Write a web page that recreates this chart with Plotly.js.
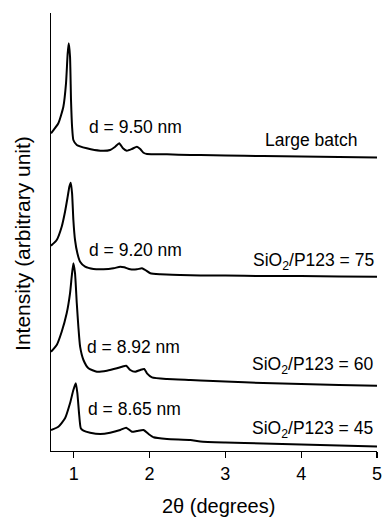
<!DOCTYPE html>
<html>
<head>
<meta charset="utf-8">
<script src="https://cdn.plot.ly/plotly-3.0.1.min.js"></script>
<style>html,body{margin:0;padding:0;background:#fff;}#chart{width:382px;height:520px;}</style>
</head>
<body>
<div id="chart"></div>
<script>
// 2θ (degrees) and stacked intensity (arbitrary units)
const xLarge = [0.70,0.797,0.863,0.898,0.92,0.934,0.951,0.964,0.978,0.995,1.04,1.172,1.35,1.48,1.547,1.60,1.649,1.70,1.767,1.833,1.877,1.92,1.966,2.23,2.54,2.67,3.0,3.5,4.0,4.5,5.0];
const yLarge = [317.7,327.7,344.3,367.7,397.7,407.7,394.3,351,324.3,311,306,302.7,300.3,301,304.3,307.7,302.7,300.3,302,304.3,302,298.3,297,296.7,296,296,295.5,295,294.5,294,293.5];

const x75 = [0.70,0.775,0.841,0.885,0.92,0.942,0.96,0.978,0.995,1.017,1.048,1.084,1.15,1.26,1.392,1.524,1.613,1.666,1.745,1.834,1.90,1.943,2.01,2.14,2.406,2.67,3.0,3.5,4.0,4.5,5.0];
const y75 = [205.3,211,224.3,239.3,254.3,264.3,268.3,257.7,231,211,197.7,189.3,184.3,182,181.7,182.7,184.3,183.7,181.7,181.7,182.7,181,177.7,176.7,176,175.5,175.5,175,175,174.5,174.3];

const x60 = [0.70,0.775,0.841,0.907,0.951,0.973,0.995,1.017,1.04,1.061,1.084,1.128,1.194,1.305,1.437,1.569,1.635,1.692,1.745,1.811,1.877,1.93,1.966,2.032,2.23,2.54,2.67,3.0,3.5,4.0,4.5,5.0];
const y60 = [99.3,106,119.3,137.7,157.7,174.3,187.7,177.7,147.7,124.3,104.3,91,82.7,79.3,80.3,82.7,84.3,85.3,81,79.3,81,82,77.7,73.7,72,71,70.5,69.5,68,67,66,65.3];

const x45 = [0.70,0.797,0.885,0.951,0.995,1.027,1.048,1.07,1.093,1.128,1.216,1.35,1.48,1.613,1.692,1.767,1.834,1.92,1.987,2.053,2.23,2.54,2.67,3.0,3.5,4.0,4.5,5.0];
const y45 = [21,24.3,32.7,47.7,61,67.7,57.7,37.7,22.7,20.3,18.3,17,18.3,21,23.3,19.3,20,21,17,13.7,12,11,9.5,8.5,7.5,6.5,5.5,4.5];

const xTicks = [1,2,3,4,5];
const spacingLabels = ['d = 9.50 nm','d = 9.20 nm','d = 8.92 nm','d = 8.65 nm'];
const sampleLabels = ['Large batch','SiO<sub>2</sub>/P123 = 75','SiO<sub>2</sub>/P123 = 60','SiO<sub>2</sub>/P123 = 45'];

const FONT = 'Liberation Sans, Arial, sans-serif';
const line = {color:'#000', width:2, shape:'spline', smoothing:0.5};
const series = [[xLarge,yLarge],[x75,y75],[x60,y60],[x45,y45]];
const traces = series.map(s => ({x:s[0], y:s[1], mode:'lines', line:line, hoverinfo:'skip', showlegend:false}));

const dPos = [[1.172,324],[1.172,201],[1.15,104.3],[1.16,42]];
const sPos = [[4.765,311],[4.986,190],[4.977,86],[4.98,21.7]];
const annotations = [];
spacingLabels.forEach((t,i)=>annotations.push({x:dPos[i][0], y:dPos[i][1], xref:'x', yref:'y', text:t, showarrow:false, xanchor:'left', yanchor:'middle', font:{family:FONT,size:17.5,color:'#000'}}));
sampleLabels.forEach((t,i)=>annotations.push({x:sPos[i][0], y:sPos[i][1], xref:'x', yref:'y', text:t, showarrow:false, xanchor:'right', yanchor:'middle', font:{family:FONT,size:17.5,color:'#000'}}));
annotations.push({x:-0.086, y:0.475, xref:'paper', yref:'paper', text:'Intensity (arbitrary unit)', textangle:-90, showarrow:false, xanchor:'center', yanchor:'middle', font:{family:FONT,size:21,color:'#000'}});
annotations.push({x:0.514, y:-0.126, xref:'paper', yref:'paper', text:'2θ (degrees)', showarrow:false, xanchor:'center', yanchor:'middle', font:{family:FONT,size:20,color:'#000'}});

const layout = {
  width:382, height:520,
  margin:{l:51, r:5, t:13, b:69},
  paper_bgcolor:'#fff', plot_bgcolor:'#fff',
  font:{family:FONT, size:18, color:'#000'},
  xaxis:{range:[0.7,5], tickvals:xTicks, ticktext:xTicks.map(String), ticks:'outside', ticklen:6, tickwidth:1.3, tickcolor:'#000',
         ticklabeloverflow:'allow',
         showline:true, linecolor:'#000', linewidth:1.4, showgrid:false, zeroline:false, tickfont:{family:FONT,size:18,color:'#000'}},
  yaxis:{range:[0,438], showticklabels:false, ticks:'', showline:true, linecolor:'#000', linewidth:1.4, showgrid:false, zeroline:false},
  annotations:annotations
};
Plotly.newPlot('chart', traces, layout, {displayModeBar:false, staticPlot:true});
</script>
</body>
</html>
